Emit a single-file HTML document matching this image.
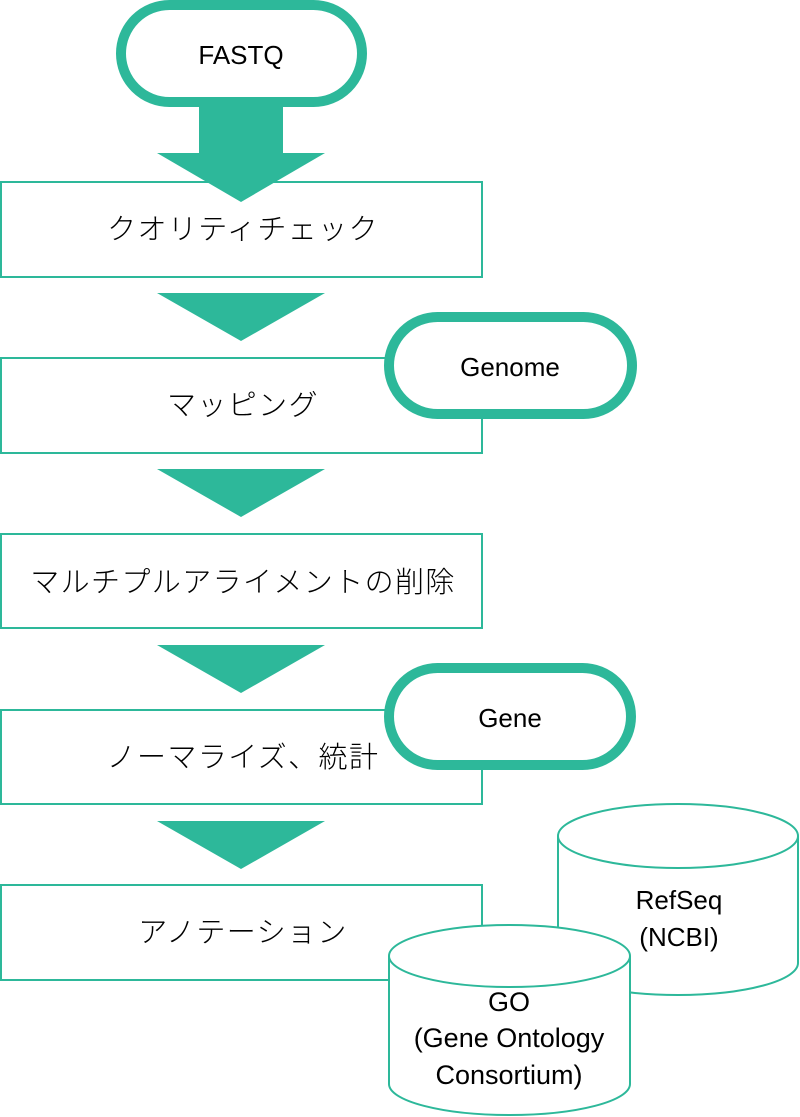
<!DOCTYPE html>
<html>
<head>
<meta charset="utf-8">
<style>
  html, body { margin: 0; padding: 0; background: #ffffff; }
  body { width: 800px; height: 1117px; overflow: hidden; }
  svg { display: block; }
  .jp { font-family: "Liberation Sans", "Noto Sans CJK JP", sans-serif; font-size: 29px; font-weight: 300; letter-spacing: 1.4px; fill: #000; }
  .en { font-family: "Liberation Sans", "Noto Sans CJK JP", sans-serif; font-size: 26px; fill: #000; }
  .en2 { font-family: "Liberation Sans", "Noto Sans CJK JP", sans-serif; font-size: 27px; fill: #000; }
</style>
</head>
<body>
<svg width="800" height="1117" viewBox="0 0 800 1117" xmlns="http://www.w3.org/2000/svg">
  <!-- Boxes -->
  <g fill="#ffffff" stroke="#2DB89A" stroke-width="2">
    <rect x="1" y="182" width="481" height="95"/>
    <rect x="1" y="358" width="481" height="95"/>
    <rect x="1" y="534" width="481" height="94"/>
    <rect x="1" y="710" width="481" height="94"/>
    <rect x="1" y="885" width="481" height="95"/>
  </g>

  <!-- Arrows -->
  <g fill="#2DB89A">
    <rect x="199" y="100" width="84" height="54"/>
    <polygon points="157,153 325,153 241,202"/>
    <polygon points="157,293 325,293 241,341"/>
    <polygon points="157,469 325,469 241,517"/>
    <polygon points="157,645 325,645 241,693"/>
    <polygon points="157,821 325,821 241,869"/>
  </g>

  <!-- FASTQ stadium -->
  <rect x="121" y="5" width="241" height="97" rx="48.5" ry="48.5" fill="#ffffff" stroke="#2DB89A" stroke-width="10"/>
  <text class="en" x="241" y="64" text-anchor="middle">FASTQ</text>

  <!-- Box labels -->
  <text class="jp" x="243" y="239" text-anchor="middle">クオリティチェック</text>
  <text class="jp" x="243" y="415" text-anchor="middle">マッピング</text>
  <text class="jp" x="243" y="592" text-anchor="middle">マルチプルアライメントの削除</text>
  <text class="jp" x="243" y="767" text-anchor="middle">ノーマライズ、統計</text>
  <text class="jp" x="243" y="942" text-anchor="middle">アノテーション</text>

  <!-- Genome stadium -->
  <rect x="389" y="317" width="243" height="97" rx="48.5" ry="48.5" fill="#ffffff" stroke="#2DB89A" stroke-width="10"/>
  <text class="en" x="510" y="376" text-anchor="middle">Genome</text>

  <!-- Gene stadium -->
  <rect x="389" y="668" width="242" height="97" rx="48.5" ry="48.5" fill="#ffffff" stroke="#2DB89A" stroke-width="10"/>
  <text class="en" x="510" y="727" text-anchor="middle">Gene</text>

  <!-- RefSeq cylinder -->
  <g stroke="#2DB89A" stroke-width="2" fill="#ffffff">
    <path d="M558,836 L558,963 A120,32 0 0 0 798,963 L798,836"/>
    <ellipse cx="678" cy="836" rx="120" ry="32"/>
  </g>
  <text class="en" x="679" y="909" text-anchor="middle">RefSeq</text>
  <text class="en" x="679" y="946" text-anchor="middle">(NCBI)</text>

  <!-- GO cylinder -->
  <g stroke="#2DB89A" stroke-width="2" fill="#ffffff">
    <path d="M389,956 L389,1084 A120.5,31 0 0 0 630,1084 L630,956"/>
    <ellipse cx="509.5" cy="956" rx="120.5" ry="31"/>
  </g>
  <text class="en2" x="509" y="1011" text-anchor="middle">GO</text>
  <text class="en2" x="509" y="1047" text-anchor="middle">(Gene Ontology</text>
  <text class="en2" x="509" y="1084" text-anchor="middle">Consortium)</text>
</svg>
</body>
</html>
